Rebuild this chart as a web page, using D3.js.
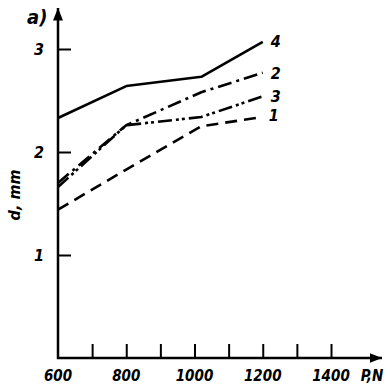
<!DOCTYPE html>
<html><head><meta charset="utf-8">
<script src="https://cdn.jsdelivr.net/npm/d3@7"></script>
<style>
body{margin:0;background:#fff;}
text{font-family:"DejaVu Sans Condensed","DejaVu Sans",sans-serif;font-style:italic;font-weight:bold;fill:#000;}
</style></head>
<body>
<svg id="c" width="390" height="390"></svg>
<script>
const loads = [600, 800, 1020, 1200];
const curve1 = [1.44, 1.83, 2.25, 2.34];
const curve2 = [1.70, 2.26, 2.58, 2.77];
const curve3 = [1.66, 2.26, 2.34, 2.54];
const curve4 = [2.33, 2.64, 2.73, 3.07];
const curveNames = ["1", "2", "3", "4"];
const xTickValues = [600, 700, 800, 900, 1000, 1100, 1200, 1300, 1400];
const xTickLabels = ["600", "", "800", "", "1000", "", "1200", "", "1400"];
const yTickValues = [1, 2, 3];

const svg = d3.select("#c");
const x = d3.scaleLinear().domain([600, 1400]).range([58, 331]);
const y = d3.scaleLinear().domain([0, 3]).range([358, 49]);

svg.append("defs").append("marker").attr("id","arr").attr("viewBox","0 0 10 10")
  .attr("refX",10).attr("refY",5).attr("markerWidth",5).attr("markerHeight",5).attr("orient","auto")
  .append("path").attr("d","M0,1 L10,5 L0,9 Z").attr("fill","#000");
svg.append("line").attr("x1",x(600)).attr("x2",x(600)).attr("y1",y(0)+1).attr("y2",8)
  .attr("stroke","#000").attr("stroke-width",2.5).attr("marker-end","url(#arr)");
svg.append("line").attr("x1",x(600)-1).attr("x2",382).attr("y1",y(0)).attr("y2",y(0))
  .attr("stroke","#000").attr("stroke-width",2.5).attr("marker-end","url(#arr)");

const xAxis = d3.axisTop(x).tickValues(xTickValues).tickSize(14).tickFormat(()=>"");
const gx = svg.append("g").attr("transform",`translate(0,${y(0)})`).call(xAxis);
gx.select(".domain").remove();
gx.selectAll(".tick line").attr("stroke","#000").attr("stroke-width",2)
  .attr("y2", (d)=> d===600 ? 0 : -14);
svg.append("g").selectAll("text").data(xTickValues).join("text")
  .attr("x", d=>x(d)).attr("y", 381).attr("text-anchor","middle").attr("font-size",15)
  .text((d,i)=>xTickLabels[i]);
svg.append("text").attr("x",372).attr("y",381).attr("text-anchor","middle").attr("font-size",15).text("P,N");

const yAxis = d3.axisRight(y).tickValues(yTickValues).tickSize(13).tickFormat("");
const gy = svg.append("g").attr("transform",`translate(${x(600)},0)`).call(yAxis);
gy.select(".domain").remove();
gy.selectAll(".tick line").attr("stroke","#000").attr("stroke-width",2);
svg.append("g").selectAll("text").data(yTickValues).join("text")
  .attr("x",44).attr("y",d=>y(d)+6).attr("text-anchor","end").attr("font-size",16).text(d=>d);

svg.append("text").attr("transform","translate(20,195) rotate(-90)").attr("text-anchor","middle")
  .attr("font-size",16).text("d, mm");
svg.append("text").attr("x",27).attr("y",24).attr("font-size",20).attr("font-weight","normal").text("a)");

const series = [curve1, curve2, curve3, curve4];
const dashes = ["12,7", "14,5,3,5", "14,4,3,3,3,4", null];
const line = d3.line().x((d,i)=>x(loads[i])).y(d=>y(d));
series.forEach((s,k)=>{
  const p = svg.append("path").attr("d", line(s)).attr("fill","none").attr("stroke","#000")
    .attr("stroke-width",2.6).attr("stroke-linejoin","round");
  if (dashes[k]) p.attr("stroke-dasharray", dashes[k]);
});
const labelOffsets = [[6,4],[8,6],[8,6],[8,5]];
series.forEach((s,k)=>{
  svg.append("text").attr("x", x(loads[3])+labelOffsets[k][0]).attr("y", y(s[3])+labelOffsets[k][1])
    .attr("font-size",16).text(curveNames[k]);
});
</script>
</body></html>
